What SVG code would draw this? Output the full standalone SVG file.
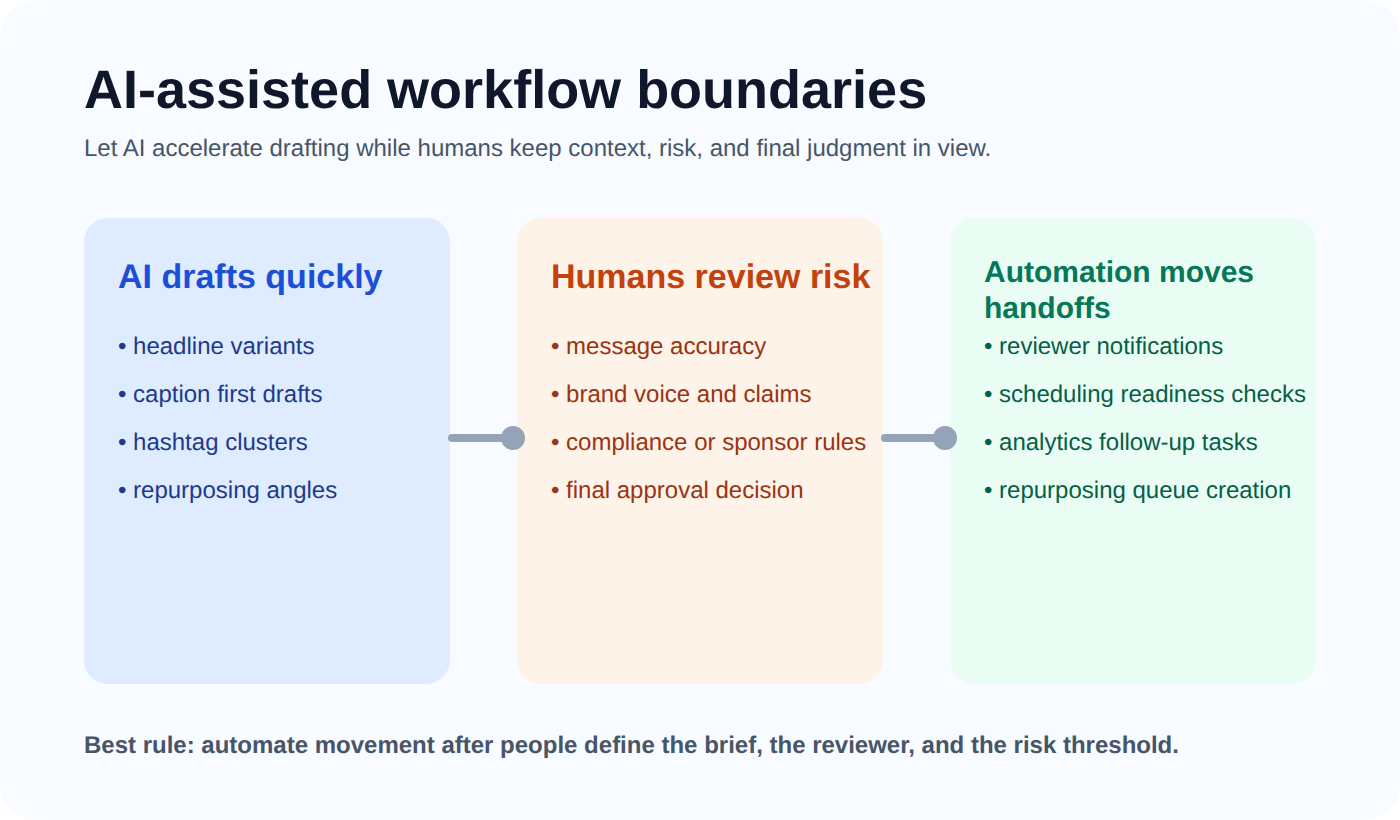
<svg xmlns="http://www.w3.org/2000/svg" width="1400" height="820" viewBox="0 0 1400 820">
<style>
text{font-family:"Liberation Sans",Arial,sans-serif;text-rendering:geometricPrecision}
.title{font-size:54px;font-weight:700;fill:#0f172a}
.sub{font-size:24px;fill:#475569}
.foot{font-size:24px;font-weight:700;fill:#475569}
.h{font-size:34px;font-weight:700}
.h2{font-size:30px;font-weight:700}
.li{font-size:24px}
.card{stroke:none}
.link{stroke:#94a3b8;stroke-width:8;stroke-linecap:round;fill:none}
.dot{fill:#94a3b8}
</style>
<rect width="1400" height="820" fill="#fff"/>
<rect id="panel" width="1400" height="820" rx="36" fill="#f8fbff"/>
<text class="title" x="84" y="108">AI-assisted workflow boundaries</text>
<text class="sub" x="84" y="156">Let AI accelerate drafting while humans keep context, risk, and final judgment in view.</text>
<g id="node-ai">
<rect class="card" x="84" y="218" width="366" height="466" rx="24" fill="#dfebff"/>
<text class="h" x="118" y="288" fill="#1d4ed8">AI drafts quickly</text>
<g class="li" fill="#1e3a8a">
<text x="118" y="354">• headline variants</text>
<text x="118" y="402">• caption first drafts</text>
<text x="118" y="450">• hashtag clusters</text>
<text x="118" y="498">• repurposing angles</text>
</g>
</g>
<g id="node-humans">
<rect class="card" x="517" y="218" width="366" height="466" rx="24" fill="#fdf3e8"/>
<text class="h" x="551" y="288" fill="#c2410c">Humans review risk</text>
<g class="li" fill="#9a3412">
<text x="551" y="354">• message accuracy</text>
<text x="551" y="402">• brand voice and claims</text>
<text x="551" y="450">• compliance or sponsor rules</text>
<text x="551" y="498">• final approval decision</text>
</g>
</g>
<g id="node-automation">
<rect class="card" x="950" y="218" width="366" height="466" rx="24" fill="#eafdf4"/>
<text class="h2" x="984" y="282" fill="#047857">Automation moves</text>
<text class="h2" x="984" y="318" fill="#047857">handoffs</text>
<g class="li" fill="#065f46">
<text x="984" y="354">• reviewer notifications</text>
<text x="984" y="402">• scheduling readiness checks</text>
<text x="984" y="450">• analytics follow-up tasks</text>
<text x="984" y="498">• repurposing queue creation</text>
</g>
</g>
<g id="connectors">
<line class="link" x1="452" y1="438" x2="513" y2="438"/>
<circle class="dot" cx="513" cy="438" r="12"/>
<line class="link" x1="885" y1="438" x2="945" y2="438"/>
<circle class="dot" cx="945" cy="438" r="12"/>
</g>
<text class="foot" x="84" y="753">Best rule: automate movement after people define the brief, the reviewer, and the risk threshold.</text>
</svg>
